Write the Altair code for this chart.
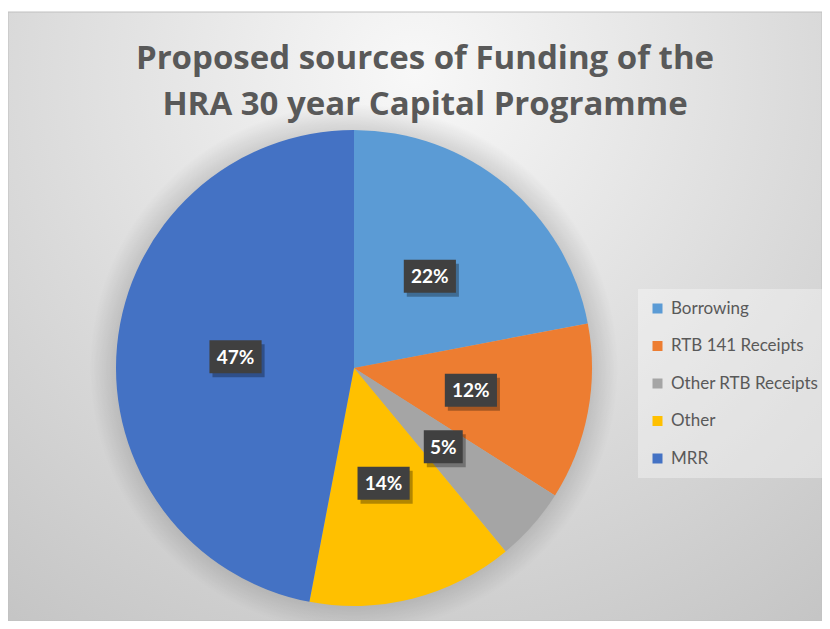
import altair as alt
import pandas as pd

categories = ["Borrowing", "RTB 141 Receipts", "Other RTB Receipts", "Other", "MRR"]
shares = [22, 12, 5, 14, 47]
colors = ["#5B9BD5", "#ED7D31", "#A5A5A5", "#FFC000", "#4472C4"]
title_lines = ["Proposed sources of Funding of the", "HRA 30 year Capital Programme"]

df = pd.DataFrame({"category": categories, "share": shares,
                   "order": list(range(len(categories)))})

W = H = 476
one = alt.Data(values=[{"a": 1}])

bg_fill = {
    "gradient": "radial",
    "x1": 0.5, "y1": 0.2, "r1": 0,
    "x2": 0.5, "y2": 0.2, "r2": 0.85,
    "stops": [
        {"offset": 0, "color": "#f8f8f8"},
        {"offset": 0.5, "color": "#dedede"},
        {"offset": 1, "color": "#c4c4c4"},
    ],
}
bg = alt.Chart(one).mark_rect(fill=bg_fill, stroke="#c0c0c0", strokeWidth=1).encode(
    x=alt.value(-108), x2=alt.value(706), y=alt.value(-118), y2=alt.value(491)
)

shadow_fill = {
    "gradient": "radial",
    "x1": 0.5, "y1": 0.5, "r1": 0,
    "x2": 0.5, "y2": 0.5, "r2": 0.5,
    "stops": [
        {"offset": 0, "color": "rgba(0,0,0,0.25)"},
        {"offset": 0.9, "color": "rgba(0,0,0,0.13)"},
        {"offset": 1, "color": "rgba(0,0,0,0)"},
    ],
}
shadow = alt.Chart(one).mark_arc(theta=0, theta2=6.2832, radius=264, fill=shadow_fill).encode(
    opacity=alt.value(1)
)

legend = alt.Legend(
    title=None, orient="none", legendX=522, legendY=159,
    fillColor="rgba(255,255,255,0.35)", padding=11,
    symbolType="square", symbolSize=100, symbolStrokeWidth=0,
    labelFont="Lato", labelFontSize=17, labelColor="#595959",
    labelOffset=5, rowPadding=19.5,
)

base = alt.Chart(df)

pie = base.mark_arc(radius=238).encode(
    theta=alt.Theta("share:Q", stack=True),
    color=alt.Color("category:N", scale=alt.Scale(domain=categories, range=colors), legend=legend),
    order=alt.Order("order:Q"),
)

lab = base.transform_joinaggregate(total="sum(share)").transform_window(
    cum="sum(share)", sort=[alt.SortField("order")], frame=[None, 0]
).transform_calculate(
    mid="2*PI*(datum.cum - datum.share/2)/datum.total",
    lx="0.5*sin(datum.mid)",
    ly="0.5*cos(datum.mid)",
    label="datum.share + '%'",
    nchar="'n' + length(datum.share + '%')",
)

path3 = "M-1.58,-1H1.58V1H-1.58Z"
path2 = "M-1.18,-1H1.18V1H-1.18Z"
xenc = alt.X("lx:Q", scale=alt.Scale(domain=[-1, 1]), axis=None)
yenc = alt.Y("ly:Q", scale=alt.Scale(domain=[-1, 1]), axis=None)
shape_enc = alt.Shape("nchar:N", scale=alt.Scale(domain=["n2", "n3"], range=[path2, path3]), legend=None)

box_shadow = lab.mark_point(filled=True, opacity=0.3, color="#000000", size=1089,
                            strokeWidth=0, xOffset=3, yOffset=4).encode(
    x=xenc, y=yenc, shape=shape_enc)
boxes = lab.mark_point(filled=True, opacity=1, color="#404040", size=1089, strokeWidth=0).encode(
    x=xenc, y=yenc, shape=shape_enc)
texts = lab.mark_text(font="Lato", fontSize=19, fontWeight="bold", color="white",
                      align="center", baseline="middle", dy=1).encode(
    x=xenc, y=yenc, text="label:N")

chart = alt.layer(bg, shadow, pie, box_shadow, boxes, texts).properties(
    width=W, height=H,
    padding={"left": 108, "top": 122, "right": 230, "bottom": 15},
    autosize=alt.AutoSizeParams(type="none"),
    background="white",
    title=alt.TitleParams(
        text=title_lines, font="Open Sans", fontSize=33, fontWeight="bold",
        color="#595959", anchor="middle", dx=71, dy=122, offset=12, lineHeight=46,
    ),
).configure_view(stroke=None)

chart.save("out.html", embed_options={"renderer": "svg", "actions": False})
